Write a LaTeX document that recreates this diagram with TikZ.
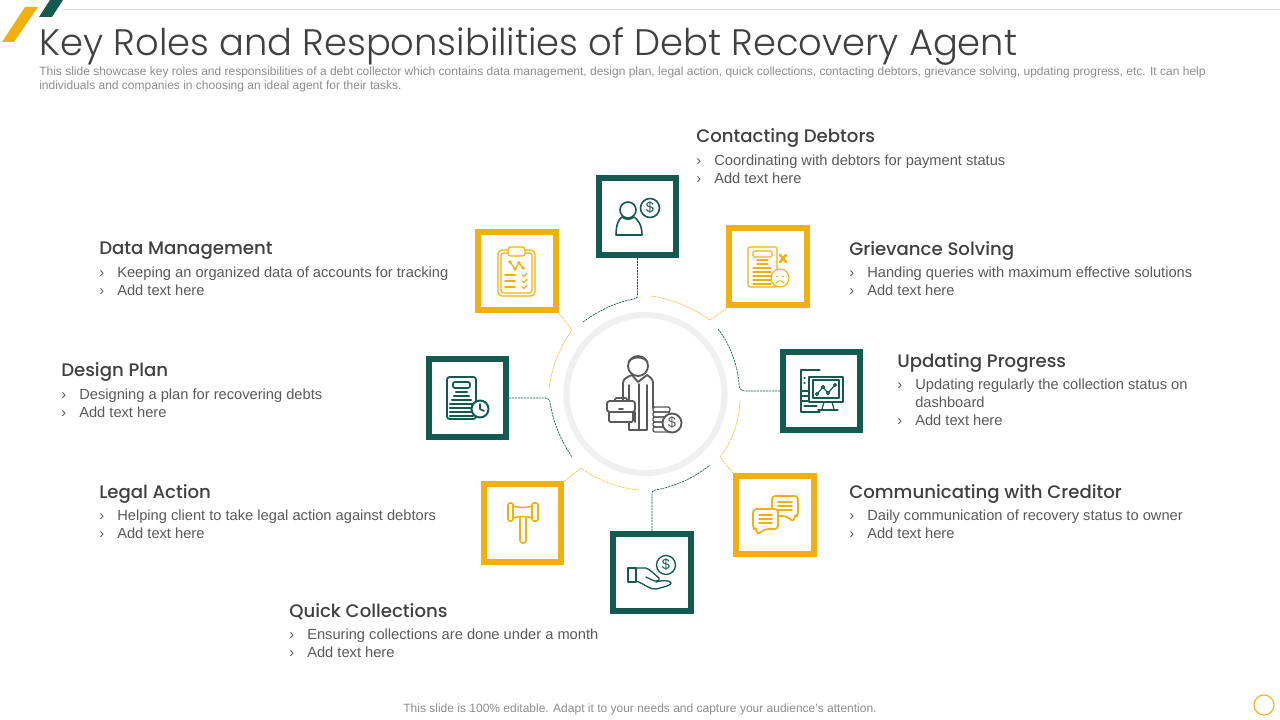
\documentclass[tikz,border=0pt]{standalone}
\usepackage{fontspec}
\usepackage[dvipsnames]{xcolor}
\setmainfont{Liberation Sans}
\newfontfamily\titlefont{Poppins Light}
\newfontfamily\headfont{Poppins Medium}
\usetikzlibrary{shapes.geometric, arrows}
\definecolor{boxyellow}{HTML}{F0B010}
\definecolor{boxgreen}{HTML}{145A50}
\definecolor{bodygray}{HTML}{595959}
\definecolor{headgray}{HTML}{404040}
\definecolor{subgray}{HTML}{8C8C8C}
\definecolor{ringgray}{HTML}{F0F0F0}
\tikzstyle{titletext} = [inner sep=0pt, anchor=west, text=headgray, font=\titlefont\fontsize{27.65}{32}\selectfont]
\tikzstyle{subtext} = [inner sep=0pt, anchor=west, align=left, text=subgray, font=\fontsize{9}{10.6}\selectfont]
\tikzstyle{foottext} = [inner sep=0pt, text=subgray, font=\fontsize{9}{10.6}\selectfont]
\tikzstyle{head} = [inner sep=0pt, anchor=west, text=headgray, font=\headfont\fontsize{13.6}{17}\selectfont]
\tikzstyle{body} = [inner sep=0pt, anchor=west, align=left, text=bodygray, font=\fontsize{11}{13.5}\selectfont]
\tikzstyle{yellowbox} = [rectangle, minimum width=58pt, minimum height=58pt, inner sep=0pt, draw=boxyellow, line width=4.6pt, fill=white]
\tikzstyle{greenbox} = [rectangle, minimum width=58pt, minimum height=58pt, inner sep=0pt, draw=boxgreen, line width=4.6pt, fill=white]
\tikzstyle{yellowlink} = [draw=boxyellow!80, line width=0.5pt, dash pattern=on 1.6pt off 0.6pt]
\tikzstyle{greenlink} = [draw=boxgreen, line width=0.5pt, dash pattern=on 1.6pt off 0.6pt]
\tikzstyle{yellowicon} = [draw=boxyellow, line width=1.1pt, line join=round, line cap=round]
\tikzstyle{greenicon} = [draw=boxgreen, line width=1.2pt, line join=round, line cap=round]
\tikzstyle{grayicon} = [draw=bodygray, line width=1.4pt, line join=round, line cap=round]
\newcommand{\bulletrow}[1]{\makebox[13.5pt][l]{›}#1}

\begin{document}
\begin{tikzpicture}[x=0.75pt, y=0.75pt, yscale=-1]

\useasboundingbox (0, 0) rectangle (1280, 720);

% top bar
\draw [black!15, line width=0.6pt] (63, 9.5) -- (1280, 9.5);
\fill [boxyellow] (2, 42) -- (25, 7) -- (38, 7) -- (14, 42) -- cycle;
\fill [boxgreen] (39, 17) -- (50, 0) -- (63, 0) -- (52, 17) -- cycle;

\node at (39.5, 46) (title) [titletext] {Key Roles and Responsibilities of Debt Recovery Agent};
\node at (39, 79.5) (subtitle) [subtext] {This slide showcase key roles and responsibilities of a debt collector which contains data management, design plan, legal action, quick collections, contacting debtors, grievance solving, updating progress, etc. It can help\\individuals and companies in choosing an ideal agent for their tasks.};
\node at (640, 709) (footer) [foottext] {This slide is 100\% editable. Adapt it to your needs and capture your audience's attention.};
\draw [boxyellow, line width=0.8pt] (1264, 705) circle (10);

% texts
\node at (696, 138) (head1) [head] {Contacting Debtors};
\node at (696, 169) (text1) [body] {\bulletrow{Coordinating with debtors for payment status}\\\bulletrow{Add text here}};
\node at (849, 251) (head2) [head] {Grievance Solving};
\node at (849, 281) (text2) [body] {\bulletrow{Handing queries with maximum effective solutions}\\\bulletrow{Add text here}};
\node at (897, 363) (head3) [head] {Updating Progress};
\node at (897, 402.5) (text3) [body] {\bulletrow{Updating regularly the collection status on}\\\hspace*{13.5pt}dashboard\\\bulletrow{Add text here}};
\node at (849, 494) (head4) [head] {Communicating with Creditor};
\node at (849, 524) (text4) [body] {\bulletrow{Daily communication of recovery status to owner}\\\bulletrow{Add text here}};
\node at (289, 612) (head5) [head] {Quick Collections};
\node at (289, 643) (text5) [body] {\bulletrow{Ensuring collections are done under a month}\\\bulletrow{Add text here}};
\node at (99, 494) (head6) [head] {Legal Action};
\node at (99, 524) (text6) [body] {\bulletrow{Helping client to take legal action against debtors}\\\bulletrow{Add text here}};
\node at (61, 372) (head7) [head] {Design Plan};
\node at (61, 403) (text7) [body] {\bulletrow{Designing a plan for recovering debts}\\\bulletrow{Add text here}};
\node at (99, 251) (head8) [head] {Data Management};
\node at (99, 281) (text8) [body] {\bulletrow{Keeping an organized data of accounts for tracking}\\\bulletrow{Add text here}};

% ring and connectors
\draw [ringgray, line width=4.6pt] (645.5, 394) circle (79);
\node at (637.5, 216.5) (box1) [greenbox] {};
\node at (768, 266.5) (box2) [yellowbox] {};
\node at (821.5, 391) (box3) [greenbox] {};
\node at (775, 515) (box4) [yellowbox] {};
\node at (652, 572.5) (box5) [greenbox] {};
\node at (522.5, 523) (box6) [yellowbox] {};
\node at (467.5, 398) (box7) [greenbox] {};
\node at (517, 271) (box8) [yellowbox] {};
\coordinate (end1) at (583, 322);
\coordinate (end2) at (651, 296);
\coordinate (end3) at (718, 329);
\coordinate (end4) at (740, 400);
\coordinate (end5) at (710, 465);
\coordinate (end6) at (639, 490);
\coordinate (end7) at (572, 457);
\coordinate (end8) at (549, 390);
\draw [greenlink] (box1.south) -- (637.5, 293) .. controls (637.5, 297) and (637, 299) .. (634, 299) .. controls (616, 302) and (598, 311) .. (end1);
\draw [yellowlink] (box2.south west) -- (710, 320) .. controls (692, 307) and (671, 299) .. (end2);
\draw [greenlink] (box3.west) -- (745, 391) .. controls (741, 391) and (739, 388) .. (739, 384) .. controls (737, 362) and (729, 343) .. (end3);
\draw [yellowlink] (box4.north west) -- (720, 457) .. controls (733, 441) and (739, 420) .. (end4);
\draw [greenlink] (box5.north) -- (652, 496) .. controls (652, 492) and (652.5, 490) .. (655, 490) .. controls (674, 487) and (694, 478) .. (end5);
\draw [yellowlink] (box6.north east) -- (581, 468) .. controls (597, 480) and (618, 488) .. (end6);
\draw [greenlink] (box7.east) -- (545, 398) .. controls (548, 398) and (550, 400) .. (550, 402) .. controls (553, 422) and (561, 441) .. (end7);
\draw [yellowlink] (box8.south east) -- (572, 330) .. controls (560, 347) and (551, 368) .. (end8);

% person in the middle
\begin{scope}[grayicon]
\draw (638, 366) circle (10);
\draw (628.5, 362) .. controls (632, 356) and (644, 356) .. (647.5, 362);
\draw (623, 400) -- (623, 383) .. controls (623, 379) and (627, 377) .. (632, 375) -- (638, 382) -- (647, 375) .. controls (650, 377) and (653, 379) .. (653, 383) -- (653, 408);
\draw (629, 385) -- (629, 400);
\draw (647, 385) -- (647, 430) -- (629, 430) -- (629, 422);
\draw (639, 384) -- (639, 430);
\draw (635, 412) -- (635, 422);
\draw [fill=white, rounded corners=2pt] (607, 401) rectangle (635, 412);
\draw [rounded corners=1pt] (609, 412) -- (609, 422) -- (633, 422) -- (633, 412);
\draw [rounded corners=1pt] (615, 401) -- (615, 398) -- (627, 398) -- (627, 401);
\draw (619, 409) -- (623, 409);
\foreach \y in {407, 412, 417, 422, 427}
  \draw [rounded corners=1.5pt, line width=1pt] (653, \y) rectangle (670, \y + 5);
\draw [fill=white] (672, 423) circle (9.5);
\end{scope}
\node at (672, 423) (coin0) [inner sep=0pt, text=bodygray, font=\fontsize{11}{11}\selectfont] {\$};

% icon 1, person with coin
\begin{scope}[greenicon]
\draw (628, 210) circle (8);
\draw (616, 235) -- (642, 235) .. controls (642, 224) and (637, 219) .. (634, 217) .. controls (630, 220) and (626, 220) .. (622, 217) .. controls (619, 219) and (616, 224) .. (616, 235) -- cycle;
\draw (650, 208) circle (9.5);
\end{scope}
\node at (650, 208) (coin1) [inner sep=0pt, text=boxgreen, font=\fontsize{11}{11}\selectfont] {\$};

% icon 2, complaint sheet
\begin{scope}[yellowicon, line width=0.8pt]
\draw [rounded corners=1.5pt] (748, 247) rectangle (777, 287);
\draw [rounded corners=1pt] (753, 251) rectangle (772, 257);
\foreach \y in {260, 264} \draw (757, \y) -- (768, \y);
\foreach \y in {268, 272, 276, 280, 284} \draw (753, \y) -- (771, \y);
\draw [fill=white] (780, 278) circle (9);
\draw (776, 276) -- (778, 277) (784, 276) -- (782, 277);
\draw (776, 283) .. controls (778, 280) and (782, 280) .. (784, 283);
\draw [line width=1.8pt] (780, 255) -- (786, 262) (786, 255) -- (780, 262);
\end{scope}

% icon 3, computer with chart
\begin{scope}[greenicon, line width=0.9pt]
\draw (820, 370) -- (801, 370) -- (801, 412) -- (820, 412);
\draw (804, 378) -- (805, 378) (804, 383) -- (805, 383);
\foreach \y in {391, 396, 401} \draw (801, \y) -- (809, \y);
\draw (804, 406) -- (817, 406);
\draw [fill=white] (809, 377) rectangle (843, 402);
\draw (813, 380) rectangle (839, 398);
\draw (817, 394) -- (823, 387) -- (828, 393) -- (835, 385);
\foreach \p in {(817, 394), (823, 387), (828, 393), (835, 385)}
  \draw [fill=white] \p circle (1.5);
\draw (824, 402) -- (822, 409) (832, 402) -- (834, 409);
\draw (818, 410) -- (838, 410);
\end{scope}

% icon 4, speech bubbles
\begin{scope}[yellowicon, line width=1.3pt]
\draw [rounded corners=2.5pt] (772, 496) -- (798, 496) -- (798, 516) -- (794, 516) -- (794, 522) -- (786, 516) -- (772, 516) -- cycle;
\foreach \y in {502, 506, 510} \draw (778, \y) -- (792, \y);
\draw [fill=white, rounded corners=2.5pt] (753, 509) -- (778, 509) -- (778, 529) -- (765, 529) -- (757, 535) -- (757, 529) -- (753, 529) -- cycle;
\foreach \y in {515, 519, 523} \draw (759, \y) -- (772, \y);
\end{scope}

% icon 5, hand with coin
\begin{scope}[greenicon, line width=1pt]
\draw (666, 565) circle (9.5);
\draw (628, 568) rectangle (636, 582);
\draw (636, 568) -- (646, 568) .. controls (651, 570) and (655, 575) .. (659, 578) .. controls (660, 581) and (656, 582) .. (652, 580) -- (646, 577);
\draw (656, 582) .. controls (662, 580) and (670, 580) .. (671, 583) .. controls (672, 585) and (664, 587) .. (656, 589) .. controls (650, 590) and (645, 584) .. (636, 581);
\end{scope}
\node at (666, 565) (coin5) [inner sep=0pt, text=boxgreen, font=\fontsize{11}{11}\selectfont] {\$};

% icon 6, gavel
\begin{scope}[yellowicon, line width=1.2pt]
\draw [rounded corners=1.5pt] (508, 503) rectangle (513, 521);
\draw [rounded corners=1.5pt] (532, 503) rectangle (538, 521);
\draw (513, 506) .. controls (519, 508) and (526, 508) .. (532, 506);
\draw (513, 518) .. controls (519, 516) and (526, 516) .. (532, 518);
\draw [rounded corners=2pt] (520, 517) -- (520, 543) -- (526, 543) -- (526, 517);
\end{scope}

% icon 7, sheet with clock
\begin{scope}[greenicon]
\draw [rounded corners=2pt, line width=1.4pt] (447, 377) rectangle (476, 419);
\draw [rounded corners=1.5pt, line width=1.3pt] (453, 382) rectangle (470, 388);
\foreach \y/\a in {392/456, 396/454, 400/452, 404/450, 408/450, 412/450, 416/450}
  \draw [line width=1.6pt] (\a, \y) -- (923 - \a, \y);
\draw [fill=white, line width=1.5pt] (480, 409) circle (8.5);
\draw (480, 404) -- (480, 409) -- (484, 411);
\end{scope}

% icon 8, clipboard
\begin{scope}[yellowicon, line width=0.9pt]
\draw [rounded corners=3pt] (498, 250) rectangle (535, 296);
\draw [rounded corners=2pt] (501, 253) rectangle (532, 293);
\draw [fill=white, rounded corners=2pt] (508, 247) rectangle (525, 256);
\draw (510, 262) -- (515, 269) -- (519, 263) -- (523, 268);
\foreach \p in {(510, 262), (515, 269), (519, 263), (523, 268)}
  \draw [fill=white] \p circle (1.3);
\foreach \y in {275, 281, 287} {
  \draw [line width=1.4pt] (505, \y) -- (515, \y);
  \draw (522, \y) -- (524, \y + 1.5) -- (527, \y - 1.5);
}
\end{scope}

\end{tikzpicture}
\end{document}
